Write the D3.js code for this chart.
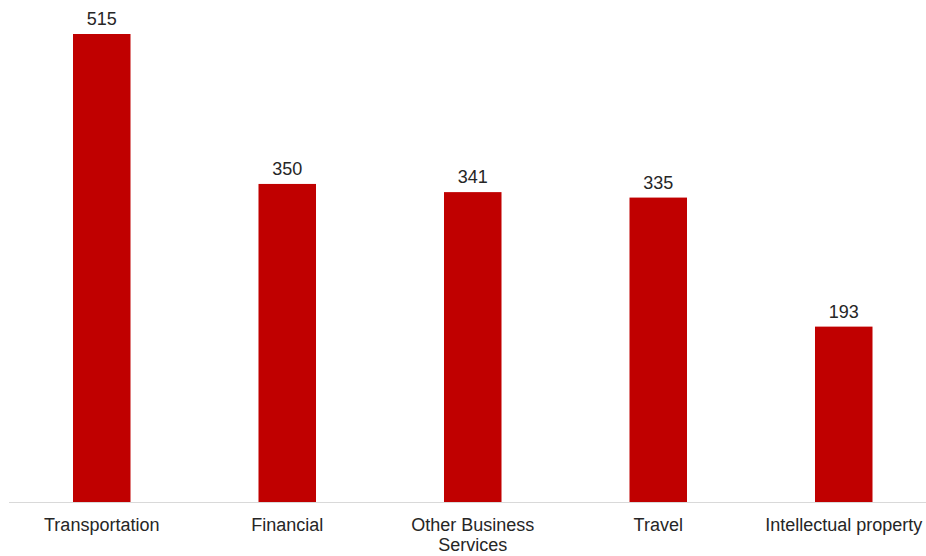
<!DOCTYPE html>
<html>
<head>
<meta charset="utf-8">
<script src="https://cdn.jsdelivr.net/npm/d3@7"></script>
<style>
  body { margin: 0; background: #fff; }
  svg { display: block; font-family: "Liberation Sans", Arial, sans-serif; }
</style>
</head>
<body>
<svg id="chart" width="926" height="556"></svg>
<script>
const categories = ["Transportation", "Financial", "Other Business Services", "Travel", "Intellectual property"];
const labelLines = [["Transportation"], ["Financial"], ["Other Business", "Services"], ["Travel"], ["Intellectual property"]];
const values = [515, 350, 341, 335, 193];

const baseline = 502;
const svg = d3.select('#chart');

const xScale = d3.scaleBand()
    .domain(categories)
    .range([9, 936.5])
    .paddingInner(0.69)
    .paddingOuter(0.345);

const yScale = d3.scaleLinear()
    .domain([0, 515])
    .range([baseline, 34]);

svg.selectAll('.bar')
    .data(values)
    .join('rect')
        .classed('bar', true)
        .attr('x', (d, i) => xScale(categories[i]))
        .attr('width', xScale.bandwidth())
        .attr('y', d => yScale(d))
        .attr('height', d => baseline - yScale(d))
        .style('fill', '#c00000');

// axis line
svg.append('line')
    .attr('x1', 9)
    .attr('x2', 926)
    .attr('y1', baseline + 0.5)
    .attr('y2', baseline + 0.5)
    .style('stroke', '#d9d9d9')
    .style('stroke-width', 1.2);

// value labels
svg.selectAll('.value')
    .data(values)
    .join('text')
        .classed('value', true)
        .attr('x', (d, i) => xScale(categories[i]) + xScale.bandwidth() / 2)
        .attr('y', d => yScale(d) - 9)
        .attr('text-anchor', 'middle')
        .style('font-size', '18px')
        .style('fill', '#262626')
        .text(d => d);

// category labels
const catText = svg.selectAll('.cat')
    .data(labelLines)
    .join('text')
        .classed('cat', true)
        .attr('text-anchor', 'middle')
        .style('font-size', '18px')
        .style('fill', '#262626');

catText.each(function(lines, i) {
    const cx = xScale(categories[i]) + xScale.bandwidth() / 2;
    d3.select(this).selectAll('tspan')
        .data(lines)
        .join('tspan')
            .attr('x', cx)
            .attr('y', (d, j) => 530.5 + j * 20)
            .text(d => d);
});
</script>
</body>
</html>
